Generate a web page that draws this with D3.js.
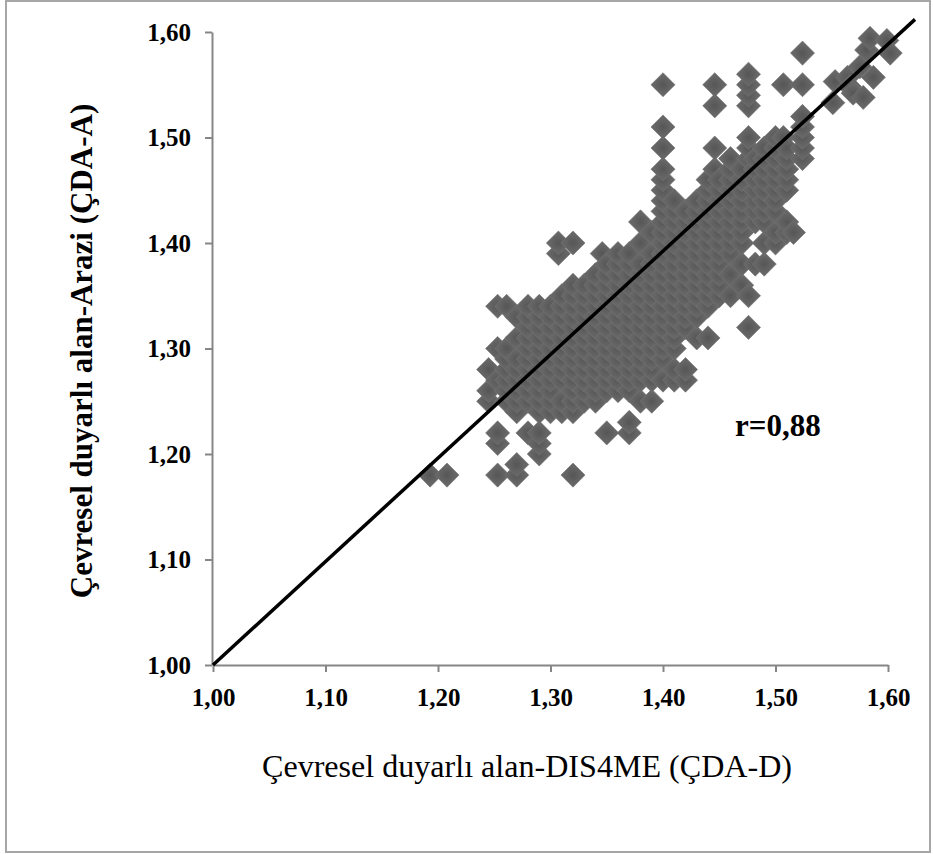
<!DOCTYPE html>
<html>
<head>
<meta charset="utf-8">
<script src="https://cdn.jsdelivr.net/npm/d3@7"></script>
<style>
body { margin: 0; background: #fff; }
</style>
</head>
<body>
<div class="chart"></div>
<script>
// x (ÇDA-D) column positions and the ÇDA-A values stacked in each column
const cdaD = [1.193, 1.208, 1.245, 1.253, 1.261, 1.27, 1.28, 1.29, 1.30, 1.307,
  1.31, 1.32, 1.33, 1.34, 1.346, 1.35, 1.36, 1.37, 1.38, 1.39,
  1.40, 1.41, 1.42, 1.43, 1.44, 1.446, 1.45, 1.46, 1.47, 1.476, 1.482, 1.49,
  1.50, 1.507, 1.51, 1.516, 1.524,
  1.551, 1.553, 1.564, 1.566, 1.569, 1.575, 1.578, 1.581, 1.584, 1.587, 1.599, 1.602];
const cdaA = [
  [1.18],
  [1.18],
  [1.25, 1.26, 1.28],
  [1.18, 1.21, 1.22, 1.27, 1.30, 1.34],
  [1.25, 1.26, 1.27, 1.28, 1.29, 1.30, 1.34],
  [1.18, 1.19, 1.24, 1.25, 1.26, 1.27, 1.28, 1.29, 1.31, 1.33],
  [1.22, 1.25, 1.26, 1.27, 1.28, 1.29, 1.30, 1.31, 1.32, 1.33, 1.34],
  [1.20, 1.21, 1.22, 1.24, 1.25, 1.26, 1.27, 1.28, 1.29, 1.30, 1.31, 1.32, 1.33, 1.34],
  [1.24, 1.25, 1.26, 1.27, 1.28, 1.29, 1.30, 1.31, 1.32, 1.33, 1.34],
  [1.39, 1.40],
  [1.24, 1.25, 1.27, 1.28, 1.29, 1.30, 1.31, 1.32, 1.33, 1.34, 1.35],
  [1.18, 1.24, 1.25, 1.26, 1.27, 1.28, 1.29, 1.30, 1.31, 1.32, 1.33, 1.34, 1.35, 1.36, 1.40],
  [1.25, 1.26, 1.27, 1.28, 1.29, 1.30, 1.31, 1.32, 1.33, 1.34, 1.35, 1.36],
  [1.25, 1.26, 1.27, 1.28, 1.29, 1.30, 1.31, 1.32, 1.33, 1.34, 1.35, 1.36, 1.37],
  [1.39],
  [1.22, 1.26, 1.27, 1.28, 1.29, 1.30, 1.31, 1.32, 1.33, 1.34, 1.35, 1.36, 1.37, 1.38],
  [1.26, 1.27, 1.28, 1.29, 1.30, 1.31, 1.32, 1.33, 1.34, 1.35, 1.36, 1.37, 1.38, 1.39],
  [1.22, 1.23, 1.26, 1.27, 1.28, 1.29, 1.30, 1.31, 1.32, 1.33, 1.34, 1.35, 1.36, 1.37, 1.38, 1.39],
  [1.25, 1.27, 1.28, 1.29, 1.30, 1.31, 1.32, 1.33, 1.34, 1.35, 1.36, 1.37, 1.38, 1.40, 1.42],
  [1.25, 1.27, 1.28, 1.29, 1.30, 1.31, 1.32, 1.33, 1.34, 1.35, 1.36, 1.37, 1.38, 1.39, 1.41],
  [1.27, 1.29, 1.30, 1.31, 1.32, 1.33, 1.34, 1.35, 1.36, 1.37, 1.38, 1.39, 1.40, 1.41, 1.42, 1.43, 1.44, 1.45, 1.46, 1.47, 1.49, 1.51, 1.55],
  [1.27, 1.28, 1.30, 1.31, 1.32, 1.33, 1.34, 1.35, 1.36, 1.37, 1.38, 1.39, 1.40, 1.41, 1.42, 1.43, 1.44],
  [1.27, 1.28, 1.32, 1.33, 1.34, 1.35, 1.36, 1.37, 1.38, 1.39, 1.40, 1.41, 1.42, 1.43],
  [1.31, 1.33, 1.34, 1.35, 1.36, 1.37, 1.38, 1.39, 1.40, 1.41, 1.42, 1.43, 1.44],
  [1.31, 1.34, 1.35, 1.36, 1.37, 1.38, 1.39, 1.40, 1.41, 1.42, 1.43, 1.44, 1.45, 1.46],
  [1.47, 1.49, 1.53, 1.55],
  [1.35, 1.36, 1.37, 1.38, 1.39, 1.40, 1.41, 1.42, 1.43, 1.44, 1.45, 1.46],
  [1.35, 1.37, 1.39, 1.40, 1.41, 1.42, 1.43, 1.44, 1.45, 1.46, 1.47, 1.48],
  [1.36, 1.38, 1.40, 1.41, 1.42, 1.43, 1.44, 1.45, 1.46, 1.47],
  [1.32, 1.35, 1.48, 1.49, 1.50, 1.53, 1.54, 1.55, 1.56],
  [1.38, 1.42, 1.43, 1.44, 1.45, 1.46, 1.47, 1.48],
  [1.38, 1.40, 1.42, 1.43, 1.44, 1.45, 1.46, 1.47, 1.48, 1.49],
  [1.40, 1.41, 1.43, 1.44, 1.45, 1.46, 1.47, 1.48, 1.49, 1.50],
  [1.50, 1.55],
  [1.41, 1.42, 1.45, 1.46, 1.47, 1.48, 1.49],
  [1.41],
  [1.48, 1.49, 1.50, 1.51, 1.52, 1.55, 1.58],
  [1.533],
  [1.553],
  [1.557],
  [1.548],
  [1.542],
  [1.567],
  [1.538],
  [1.583],
  [1.594],
  [1.557],
  [1.592],
  [1.58]
];

const tickVals = [1.00, 1.10, 1.20, 1.30, 1.40, 1.50, 1.60];
const tickLabels = ['1,00', '1,10', '1,20', '1,30', '1,40', '1,50', '1,60'];
const lineD = [1.00, 1.624];
const lineA = [1.00, 1.612];
const rLabel = 'r=0,88';

const points = cdaD.flatMap((xv, i) => cdaA[i].map(yv => ({x: xv, y: yv})));

const width = 933;
const height = 854;
const svg = d3.select('.chart')
  .append('svg')
  .attr('width', width)
  .attr('height', height)

const serif = "'Times New Roman', 'Liberation Serif', serif";

svg.append('rect')
  .attr('x', 6).attr('y', 1)
  .attr('width', 924).attr('height', 851)
  .attr('fill', 'none')
  .attr('stroke', '#a6a6a6')
  .attr('stroke-width', 2);

const x = d3.scaleLinear().domain([1, 1.6]).range([213, 888]);
const y = d3.scaleLinear().domain([1, 1.6]).range([665, 32]);

const fmt = d => tickLabels[tickVals.indexOf(d)];

const xAxis = svg.append('g')
  .attr('transform', 'translate(0,665)')
  .call(d3.axisBottom(x).tickValues(tickVals).tickFormat(fmt).tickSize(7).tickSizeOuter(0).tickPadding(16));

const yAxis = svg.append('g')
  .attr('transform', 'translate(212,0)')
  .call(d3.axisLeft(y).tickValues(tickVals).tickFormat(fmt).tickSize(7).tickSizeOuter(0).tickPadding(14));

[xAxis, yAxis].forEach(g => {
  g.select('.domain').attr('stroke', '#868686').attr('stroke-width', 2);
  g.selectAll('.tick line').attr('stroke', '#868686').attr('stroke-width', 2);
  g.selectAll('.tick text')
    .attr('fill', '#000')
    .attr('font-family', serif)
    .attr('font-weight', 'bold')
    .attr('font-size', 25);
});

// marker shading: slightly lighter rim like the original markers
const grad = svg.append('defs').append('radialGradient').attr('id', 'mk');
grad.append('stop').attr('offset', '0%').attr('stop-color', '#565656');
grad.append('stop').attr('offset', '100%').attr('stop-color', '#666666');

const diamond = d3.symbol().type(d3.symbolSquare).size(290);

svg.selectAll('path.pt')
  .data(points)
  .enter()
  .append('path')
  .attr('class', 'pt')
  .attr('d', diamond)
  .attr('transform', d => 'translate(' + x(d.x) + ',' + y(d.y) + ') rotate(45)')
  .attr('fill', 'url(#mk)')
  .attr('stroke', '#737373')
  .attr('stroke-width', 0.6);

svg.append('line')
  .attr('x1', x(lineD[0])).attr('y1', y(lineA[0]))
  .attr('x2', x(lineD[1])).attr('y2', y(lineA[1]))
  .attr('stroke', '#000')
  .attr('stroke-width', 3.5);

svg.append('text')
  .attr('x', 735)
  .attr('y', 436)
  .attr('font-family', serif)
  .attr('font-weight', 'bold')
  .attr('font-size', 31)
  .text(rLabel);

svg.append('text')
  .attr('x', 527)
  .attr('y', 777)
  .attr('text-anchor', 'middle')
  .attr('font-family', serif)
  .attr('font-size', 31)
  .attr('textLength', 530)
  .attr('lengthAdjust', 'spacingAndGlyphs')
  .text('Çevresel duyarlı alan-DIS4ME (ÇDA-D)');

svg.append('text')
  .attr('transform', 'translate(92,351) rotate(-90)')
  .attr('text-anchor', 'middle')
  .attr('font-family', serif)
  .attr('font-weight', 'bold')
  .attr('font-size', 31)
  .text('Çevresel duyarlı alan-Arazi (ÇDA-A)');
</script>
</body>
</html>
